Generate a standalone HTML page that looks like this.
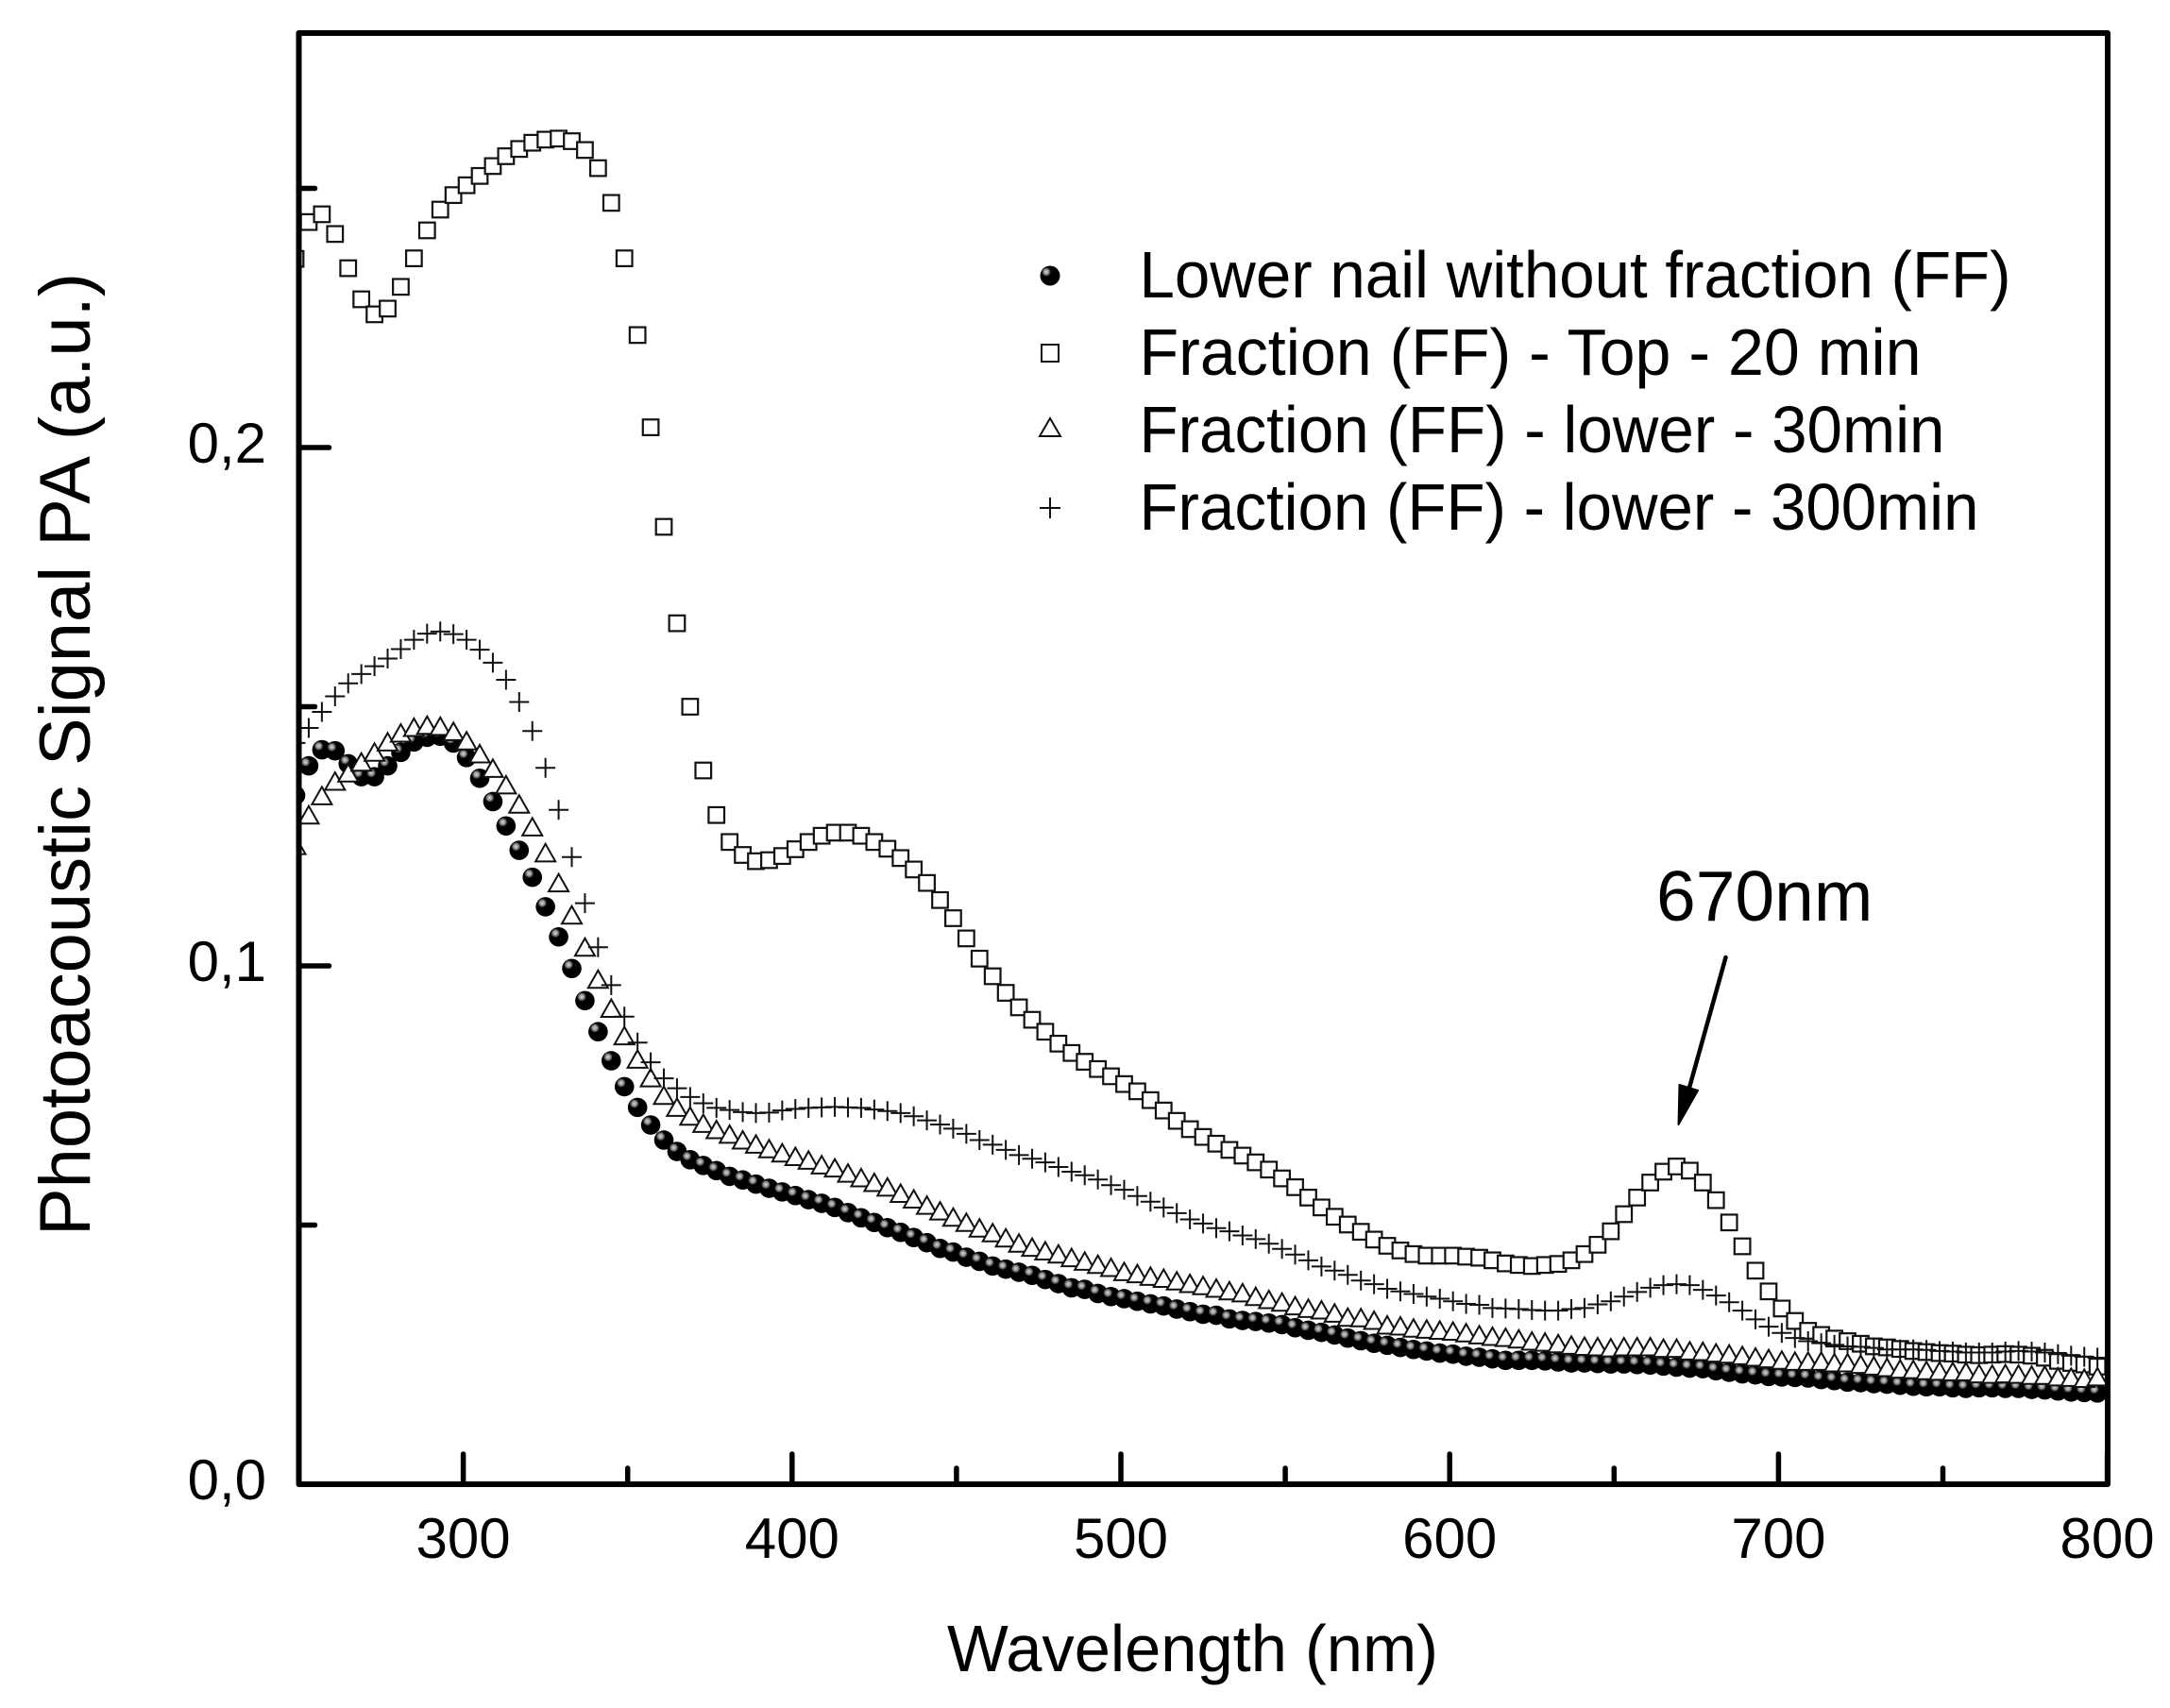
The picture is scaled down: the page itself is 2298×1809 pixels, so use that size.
<!DOCTYPE html>
<html lang="en">
<head>
<meta charset="utf-8">
<title>Photoacoustic Signal vs Wavelength</title>
<style>
  html, body { margin: 0; padding: 0; background: #fff; }
  svg { display: block; }
  text { font-family: "Liberation Sans", Arial, sans-serif; fill: #000; }
</style>
</head>
<body>
<svg id="chart" xmlns="http://www.w3.org/2000/svg" width="2298" height="1809" viewBox="0 0 2298 1809">
  <defs>
    <radialGradient id="ball-shine">
      <stop offset="0" stop-color="#d8d8d8"/>
      <stop offset="0.55" stop-color="#8c8c8c"/>
      <stop offset="1" stop-color="#000"/>
    </radialGradient>
    <clipPath id="plot-clip"><rect x="316" y="35" width="1916" height="1537"/></clipPath>
  </defs>
  <rect x="0" y="0" width="2298" height="1809" fill="#fff"/>
  <g id="series" clip-path="url(#plot-clip)"></g>
  <g id="ticks"></g>
  <rect x="316.5" y="35" width="1915.5" height="1537" fill="none" stroke="#000" stroke-width="6" stroke-linejoin="round"/>
  <g id="tick-labels"></g>
  <text x="1003" y="1770" font-size="70" textLength="520" lengthAdjust="spacingAndGlyphs">Wavelength (nm)</text>
  <text transform="translate(95 1309) rotate(-90)" font-size="76" textLength="1020" lengthAdjust="spacingAndGlyphs">Photoacoustic Signal PA (a.u.)</text>
  <g>
    <g>
      <circle cx="1112" cy="292" r="10.5" fill="#000"/>
      <circle cx="1108" cy="288" r="5" fill="url(#ball-shine)"/>
      <text x="1206.5" y="315" font-size="70" textLength="923" lengthAdjust="spacingAndGlyphs">Lower nail without fraction (FF)</text>
    </g>
    <g>
      <rect x="1103" y="365" width="18" height="18" fill="#fff" stroke="#111" stroke-width="2"/>
      <text x="1206.5" y="397" font-size="70" textLength="828" lengthAdjust="spacingAndGlyphs">Fraction (FF) - Top - 20 min</text>
    </g>
    <g>
      <polygon points="1112,443 1123,462 1101,462" fill="#fff" stroke="#111" stroke-width="2"/>
      <text x="1206.5" y="479" font-size="70" textLength="853" lengthAdjust="spacingAndGlyphs">Fraction (FF) - lower - 30min</text>
    </g>
    <g>
      <path d="M1101 538H1123M1112 527V549" fill="none" stroke="#111" stroke-width="2"/>
      <text x="1206.5" y="561" font-size="70" textLength="889" lengthAdjust="spacingAndGlyphs">Fraction (FF) - lower - 300min</text>
    </g>
  </g>
  <text x="1754" y="975" font-size="75">670nm</text>
  <g>
    <line x1="1827.5" y1="1014" x2="1789" y2="1152" stroke="#000" stroke-width="4.5" stroke-linecap="round"/>
    <polygon points="1777.5,1191 1778.5,1149 1798,1155" fill="#000" stroke="#000" stroke-width="2" stroke-linejoin="round"/>
  </g>
</svg>
<script>
const wavelengths = [
  249,253,257,261,265,269,273,277,281,285,
  289,293,297,301,305,309,313,317,321,325,
  329,333,337,341,345,349,353,357,361,365,
  369,373,377,381,385,389,393,397,401,405,
  409,413,417,421,425,429,433,437,441,445,
  449,453,457,461,465,469,473,477,481,485,
  489,493,497,501,505,509,513,517,521,525,
  529,533,537,541,545,549,553,557,561,565,
  569,573,577,581,585,589,593,597,601,605,
  609,613,617,621,625,629,633,637,641,645,
  649,653,657,661,665,669,673,677,681,685,
  689,693,697,701,705,709,713,717,721,725,
  729,733,737,741,745,749,753,757,761,765,
  769,773,777,781,785,789,793,797
];
const lowerNail = [
  .1329,.1386,.1417,.1415,.1390,.1365,.1365,.1386,.1412,.1432,
  .1441,.1443,.1430,.1402,.1362,.1317,.1270,.1223,.1171,.1114,
  .1056,.0995,.0933,.0873,.0817,.0767,.0727,.0693,.0664,.0642,
  .0626,.0615,.0605,.0594,.0587,.0579,.0571,.0564,.0557,.0549,
  .0542,.0534,.0524,.0514,.0505,.0495,.0486,.0476,.0466,.0455,
  .0448,.0438,.0430,.0421,.0415,.0409,.0403,.0395,.0387,.0379,
  .0376,.0368,.0362,.0358,.0353,.0348,.0344,.0338,.0333,.0328,
  .0326,.0319,.0316,.0314,.0311,.0308,.0302,.0297,.0293,.0288,
  .0282,.0277,.0272,.0268,.0264,.0260,.0257,.0253,.0251,.0247,
  .0245,.0242,.0239,.0239,.0239,.0238,.0236,.0234,.0234,.0233,
  .0232,.0232,.0231,.0230,.0228,.0226,.0224,.0223,.0219,.0216,
  .0213,.0211,.0208,.0207,.0206,.0205,.0202,.0200,.0197,.0196,
  .0194,.0193,.0191,.0189,.0188,.0188,.0186,.0185,.0186,.0186,
  .0185,.0185,.0183,.0182,.0180,.0178,.0177,.0176
];
const top20min = [
  .2364,.2435,.2450,.2412,.2346,.2286,.2257,.2268,.2310,.2365,
  .2419,.2459,.2487,.2506,.2524,.2543,.2562,.2576,.2588,.2594,
  .2596,.2591,.2574,.2539,.2472,.2365,.2217,.2039,.1847,.1661,
  .1500,.1377,.1291,.1239,.1214,.1202,.1204,.1212,.1225,.1239,
  .1251,.1257,.1257,.1251,.1239,.1226,.1208,.1186,.1160,.1127,
  .1092,.1053,.1014,.0980,.0948,.0920,.0896,.0873,.0850,.0832,
  .0815,.0801,.0787,.0772,.0758,.0741,.0721,.0701,.0685,.0670,
  .0657,.0645,.0634,.0621,.0607,.0590,.0573,.0553,.0534,.0516,
  .0501,.0487,.0472,.0460,.0451,.0444,.0441,.0441,.0441,.0439,
  .0437,.0432,.0426,.0423,.0421,.0423,.0425,.0432,.0444,.0462,
  .0488,.0521,.0553,.0582,.0603,.0613,.0605,.0582,.0548,.0505,
  .0459,.0412,.0372,.0339,.0315,.0296,.0288,.0281,.0276,.0271,
  .0266,.0264,.0261,.0257,.0255,.0253,.0252,.0250,.0249,.0250,
  .0251,.0250,.0248,.0244,.0238,.0234,.0231,.0227
];
const lower30min = [
  .1232,.1291,.1328,.1356,.1372,.1393,.1412,.1432,.1449,.1460,
  .1464,.1462,.1452,.1434,.1409,.1381,.1349,.1312,.1268,.1218,
  .1160,.1098,.1036,.0974,.0918,.0865,.0820,.0784,.0750,.0727,
  .0710,.0696,.0684,.0675,.0664,.0656,.0647,.0639,.0632,.0625,
  .0616,.0610,.0600,.0591,.0582,.0573,.0561,.0550,.0538,.0527,
  .0515,.0505,.0494,.0485,.0475,.0465,.0457,.0450,.0444,.0437,
  .0430,.0424,.0418,.0410,.0406,.0401,.0397,.0392,.0387,.0383,
  .0378,.0373,.0369,.0362,.0356,.0351,.0344,.0339,.0336,.0330,
  .0322,.0321,.0316,.0307,.0305,.0301,.0299,.0297,.0295,.0292,
  .0288,.0285,.0283,.0280,.0276,.0274,.0271,.0268,.0266,.0265,
  .0263,.0265,.0265,.0265,.0262,.0262,.0257,.0256,.0253,.0251,
  .0248,.0245,.0242,.0239,.0237,.0237,.0237,.0234,.0234,.0231,
  .0228,.0225,.0222,.0221,.0219,.0218,.0217,.0217,.0213,.0212,
  .0213,.0212,.0210,.0210,.0207,.0206,.0204,.0207
];
const lower300min = [
  .1430,.1459,.1490,.1520,.1545,.1563,.1578,.1593,.1611,.1629,
  .1641,.1645,.1640,.1629,.1610,.1585,.1552,.1509,.1453,.1382,
  .1301,.1210,.1121,.1036,.0963,.0902,.0852,.0814,.0783,.0764,
  .0747,.0735,.0726,.0722,.0718,.0716,.0717,.0721,.0724,.0726,
  .0727,.0728,.0727,.0726,.0723,.0720,.0716,.0710,.0702,.0694,
  .0686,.0676,.0664,.0655,.0645,.0635,.0628,.0621,.0612,.0603,
  .0596,.0588,.0577,.0568,.0556,.0545,.0534,.0523,.0511,.0503,
  .0494,.0488,.0480,.0473,.0464,.0454,.0443,.0432,.0420,.0412,
  .0404,.0393,.0386,.0377,.0372,.0367,.0362,.0358,.0353,.0348,
  .0346,.0340,.0339,.0338,.0336,.0335,.0335,.0338,.0340,.0347,
  .0353,.0362,.0371,.0379,.0384,.0386,.0384,.0375,.0364,.0351,
  .0335,.0318,.0304,.0292,.0282,.0276,.0272,.0269,.0266,.0265,
  .0263,.0260,.0260,.0260,.0259,.0257,.0256,.0254,.0254,.0254,
  .0256,.0257,.0256,.0254,.0251,.0248,.0246,.0244
];
const xMajorTicks = [300, 400, 500, 600, 700, 800];
const xMinorTicks = [350, 450, 550, 650, 750];
const xTickLabels = ["300", "400", "500", "600", "700", "800"];
const yMajorTicks = [0.1, 0.2];
const yMinorTicks = [0.05, 0.15, 0.25];
const yLabelValues = [0, 0.1, 0.2];
const yTickLabels = ["0,0", "0,1", "0,2"];

const SVGNS = "http://www.w3.org/2000/svg";
const xScale = function (w) { return 316.5 + (w - 250) * 3.482; };
const yScale = function (v) { return 1572 - v * 5490; };

function make(tag, parent) {
  const el = document.createElementNS(SVGNS, tag);
  parent.appendChild(el);
  return el;
}

const seriesRoot = document.getElementById("series");
const tickRoot = document.getElementById("ticks");
const labelRoot = document.getElementById("tick-labels");

// Ball series
const ballGroup = make("g", seriesRoot);


lowerNail.forEach(function (v, i) {
  const cx = xScale(wavelengths[i]);
  const cy = yScale(v);
  const g = make("g", ballGroup);
  
  
  const body = make("circle", g);
  body.setAttribute("cx", cx);
  body.setAttribute("cy", cy);
  body.setAttribute("r", 10.3);
  body.setAttribute("fill", "#000");
  const shine = make("circle", g);
  shine.setAttribute("cx", cx - 3.4);
  shine.setAttribute("cy", cy - 4);
  shine.setAttribute("r", 5);
  shine.setAttribute("fill", "url(#ball-shine)");
});

// Square series
const squareGroup = make("g", seriesRoot);


top20min.forEach(function (v, i) {
  const s = make("rect", squareGroup);
  
  
  s.setAttribute("x", xScale(wavelengths[i]) - 8.3);
  s.setAttribute("y", yScale(v) - 8.3);
  s.setAttribute("width", 16.6);
  s.setAttribute("height", 16.6);
  s.setAttribute("fill", "#fff");
  s.setAttribute("stroke", "#111");
  s.setAttribute("stroke-width", 2.2);
});

// Triangle series
const triangleGroup = make("g", seriesRoot);


lower30min.forEach(function (v, i) {
  const cx = xScale(wavelengths[i]);
  const cy = yScale(v);
  const t = make("polygon", triangleGroup);
  
  
  t.setAttribute("points", cx + "," + (cy - 9.5) + " " + (cx + 10.5) + "," + (cy + 9) + " " + (cx - 10.5) + "," + (cy + 9));
  t.setAttribute("fill", "#fff");
  t.setAttribute("stroke", "#111");
  t.setAttribute("stroke-width", 2);
});

// Plus series
const plusGroup = make("g", seriesRoot);


lower300min.forEach(function (v, i) {
  const cx = xScale(wavelengths[i]);
  const cy = yScale(v);
  const p = make("path", plusGroup);
  
  
  p.setAttribute("d", "M" + (cx - 10.5) + " " + cy + "H" + (cx + 10.5) + "M" + cx + " " + (cy - 10.5) + "V" + (cy + 10.5));
  p.setAttribute("fill", "none");
  p.setAttribute("stroke", "#111");
  p.setAttribute("stroke-width", 2);
});

// Ticks
function addTick(x1, y1, x2, y2) {
  const t = make("line", tickRoot);
  
  
  t.setAttribute("x1", x1);
  t.setAttribute("y1", y1);
  t.setAttribute("x2", x2);
  t.setAttribute("y2", y2);
  t.setAttribute("stroke", "#000");
  t.setAttribute("stroke-width", 5.5);
  t.setAttribute("stroke-linecap", "round");
}
xMajorTicks.forEach(function (w) { addTick(xScale(w), 1572, xScale(w), 1572 - 32); });
xMinorTicks.forEach(function (w) { addTick(xScale(w), 1572, xScale(w), 1572 - 17); });
yMajorTicks.forEach(function (v) { addTick(316.5, yScale(v), 316.5 + 32, yScale(v)); });
yMinorTicks.forEach(function (v) { addTick(316.5, yScale(v), 316.5 + 17, yScale(v)); });

// Tick labels
xMajorTicks.forEach(function (w, i) {
  const l = make("text", labelRoot);
  
  
  l.setAttribute("x", xScale(w));
  l.setAttribute("y", 1650);
  l.setAttribute("font-size", 60);
  l.setAttribute("text-anchor", "middle");
  l.textContent = xTickLabels[i];
});
yLabelValues.forEach(function (v, i) {
  const l = make("text", labelRoot);
  
  
  l.setAttribute("x", 282);
  l.setAttribute("y", yScale(v) + 16);
  l.setAttribute("font-size", 60);
  l.setAttribute("text-anchor", "end");
  l.textContent = yTickLabels[i];
});
</script>
</body>
</html>
